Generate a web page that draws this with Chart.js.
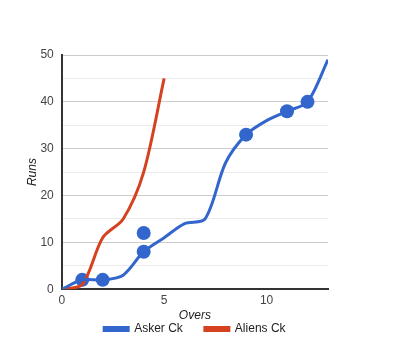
<!DOCTYPE html>
<html lang="en">
<head>
    <meta charset="UTF-8">
    <title>Runs per Over</title>
    <script src="https://cdn.jsdelivr.net/npm/chart.js"></script>
    <style>
        html, body { margin: 0; padding: 0; background: #fff; }
        .wrap { width: 418px; height: 347px; }
    </style>
</head>
<body>
    <div class="wrap"><canvas id="runsChart"></canvas></div>
    <script>
        // Asker Ck innings
        const askerOvers = [0, 1, 2, 3, 4, 5, 6, 7, 8, 9, 10, 11, 12, 13];
        const askerRuns = [0, 2, 2, 3, 8, 11, 14, 15, 27, 33, 36, 38, 40, 49];
        // wickets (dots)
        const wicketOvers = [1, 2, 4, 4, 9, 11, 12];
        const wicketRuns = [2, 2, 8, 12, 33, 38, 40];
        // Aliens Ck innings
        const aliensOvers = [0, 1, 2, 3, 4, 5];
        const aliensRuns = [0, 1, 11, 15, 25, 45];

        const xTicks = [0, 5, 10];
        const yTicks = [0, 10, 20, 30, 40, 50];

        const BLUE = '#3366cc';
        const RED = '#d4421f';
        const LEGEND_Y = 329; // centre line of the legend row

        const pts = (xs, ys) => xs.map((x, i) => ({ x: x, y: ys[i] }));

        // legend: keep the wide item gap but not the tall box, and centre it under the plot
        const legendNudge = {
            id: 'legendNudge',
            beforeLayout(chart) {
                const lg = chart.legend;
                if (lg && !lg._patched) {
                    const fit = lg.fit;
                    lg.fit = function () { fit.call(this); this.height = 14; };
                    lg._patched = true;
                }
            },
            afterLayout(chart) {
                const lg = chart.legend;
                const ca = chart.chartArea;
                const dx = (ca.left + ca.right) / 2 - (lg.left + lg.right) / 2;
                lg.left += dx; lg.right += dx;
                lg.top = LEGEND_Y - lg.options.labels.padding - 6;
                lg.bottom = chart.height;
            }
        };

        new Chart(document.getElementById('runsChart'), {
            type: 'line',
            data: {
                datasets: [{
                    label: 'Asker Ck',
                    data: pts(askerOvers, askerRuns),
                    borderColor: BLUE,
                    backgroundColor: BLUE,
                    borderWidth: 3,
                    pointRadius: 0,
                    tension: 0.3
                }, {
                    label: 'Aliens Ck',
                    data: pts(aliensOvers, aliensRuns),
                    borderColor: RED,
                    backgroundColor: RED,
                    borderWidth: 3,
                    pointRadius: 0,
                    tension: 0.3
                }, {
                    label: 'wickets',
                    data: pts(wicketOvers, wicketRuns),
                    showLine: false,
                    borderColor: BLUE,
                    backgroundColor: BLUE,
                    pointRadius: 7,
                    pointBorderWidth: 0
                }]
            },
            options: {
                responsive: true,
                maintainAspectRatio: false,
                animation: false,
                layout: { padding: { top: 55, right: 90, left: 24, bottom: 10 } },
                plugins: {
                    tooltip: { enabled: false },
                    legend: {
                        position: 'bottom',
                        labels: {
                            filter: item => item.text !== 'wickets',
                            boxWidth: 24,
                            boxHeight: 3,
                            padding: 22,
                            color: '#222',
                            font: { family: 'Arial', size: 12 }
                        }
                    }
                },
                scales: {
                    x: {
                        type: 'linear',
                        min: 0,
                        max: 13,
                        afterBuildTicks: axis => { axis.ticks = xTicks.map(v => ({ value: v })); },
                        grid: { color: 'rgba(0,0,0,0)', drawTicks: false },
                        border: { color: '#333', width: 2 },
                        ticks: { padding: 4, color: '#444', font: { family: 'Arial', size: 12 } },
                        title: {
                            display: true, text: 'Overs', color: '#222', padding: { top: -3, bottom: 0 },
                            font: { family: 'Arial', size: 12, style: 'italic' }
                        }
                    },
                    y: {
                        min: 0,
                        max: 50,
                        ticks: {
                            stepSize: 5,
                            padding: 8,
                            color: '#444',
                            font: { family: 'Arial', size: 12 },
                            callback: v => (yTicks.includes(v) ? v : '')
                        },
                        grid: {
                            drawTicks: false,
                            color: ctx => (ctx.tick && ctx.tick.value % 10 === 0 ? '#cccccc' : '#ebebeb')
                        },
                        border: { color: '#333', width: 2 },
                        title: {
                            display: true, text: 'Runs', color: '#222', padding: { top: 1, bottom: -7 },
                            font: { family: 'Arial', size: 12, style: 'italic' }
                        }
                    }
                }
            },
            plugins: [legendNudge]
        });
    </script>
</body>
</html>
